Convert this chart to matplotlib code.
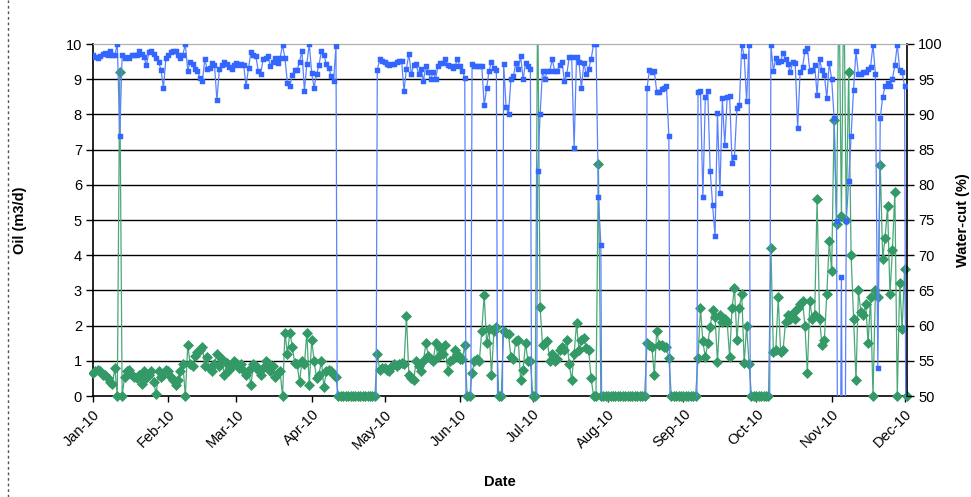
import numpy as np
import pandas as pd
import matplotlib
matplotlib.use('Agg')
import matplotlib.pyplot as plt
import matplotlib.dates as mdates
from matplotlib.lines import Line2D
from matplotlib.transforms import Bbox, TransformedBbox

plt.rcParams['font.family'] = ['Liberation Sans', 'DejaVu Sans']

# daily oil rate (m3/d), one list per month, starting 1 Jan 2010
oil_jan = [0.65, 0.7, 0.75, 0.7, 0.6, 0.6, 0.5, 0.4, 0.35, 0.8, 0.0, 9.2, 0.0, 0.55, 0.7, 0.75,
           0.6, 0.55, 0.5, 0.6, 0.35, 0.7, 0.5, 0.6, 0.7, 0.4, 0.05, 0.7, 0.55, 0.6, 0.75]
oil_feb = [0.7, 0.55, 0.45, 0.3, 0.45, 0.7, 0.9, 0.0, 1.45, 0.9, 0.85, 1.15, 1.25, 1.3, 1.4, 0.85,
           1.1, 0.8, 0.7, 0.9, 1.2, 0.85, 1.05, 0.6, 0.95, 0.75, 0.85, 1.0]
oil_mar = [0.95, 0.8, 0.9, 0.7, 0.6, 0.75, 0.3, 0.9, 0.85, 0.75, 0.6, 0.8, 1.0, 0.95, 0.7, 0.85,
           0.55, 0.65, 0.7, 0.0, 1.8, 1.2, 1.8, 1.4, 0.95, 0.9, 0.4, 1.0, 0.9, 1.8, 0.3]
oil_apr = [1.6, 1.0, 0.5, 0.6, 1.0, 0.25, 0.7, 0.75, 0.7, 0.6, 0.55,
           0.0, 0.0, 0.0, 0.0, 0.0, 0.0, 0.0, 0.0, 0.0, 0.0, 0.0, 0.0, 0.0, 0.0, 0.0, 0.0,
           1.2, 0.75, 0.8]
oil_may = [0.8, 0.75, 0.7, 0.85, 0.9, 0.85, 0.9, 0.95, 0.9, 2.27, 0.6, 0.5, 0.45, 1.0, 0.85, 0.7,
           1.0, 1.5, 1.15, 1.05, 1.0, 1.5, 1.1, 1.35, 1.2, 1.45, 0.7, 1.0, 1.05, 1.3, 1.2]
oil_jun = [1.05, 1.05, 1.45, 0.0, 0.0, 0.65, 1.0, 1.05, 1.0, 1.85, 2.87, 1.5, 1.9, 0.6, 1.85,
           1.95, 0.0, 0.0, 1.85, 1.8, 1.75, 1.1, 1.05, 1.55, 1.6, 0.45, 0.75, 1.5, 1.0, 1.0]
oil_jul = [0.0, 0.0, 11.5, 2.53, 1.45, 1.5, 1.55, 1.0, 1.2, 1.0, 1.05, 1.3, 1.4, 1.3, 1.6, 0.9,
           0.45, 1.2, 2.06, 1.3, 1.6, 1.65, 1.35, 1.3, 0.5, 0.0, 0.0, 6.6, 0.0, 0.0, 0.0]
oil_aug = [0.0, 0.0, 0.0, 0.0, 0.0, 0.0, 0.0, 0.0, 0.0, 0.0, 0.0, 0.0, 0.0, 0.0, 0.0, 0.0,
           1.5, 1.45, 1.4, 0.6, 1.85, 1.45, 1.45, 1.4, 1.4, 1.08,
           0.0, 0.0, 0.0, 0.0, 0.0]
oil_sep = [0.0, 0.0, 0.0, 0.0, 0.0, 0.0,
           1.08, 2.5, 1.55, 1.1, 1.5, 1.97, 2.44, 2.25, 0.97, 2.3, 2.1, 2.2, 2.1, 1.1, 2.5,
           3.07, 1.6, 2.5, 2.9, 0.93, 2.0, 0.9,
           0.0, 0.0]
oil_oct = [0.0, 0.0, 0.0, 0.0, 0.0, 0.0,
           4.2, 1.25, 1.3, 2.8, 1.25, 1.3, 2.1, 2.3, 2.2, 2.35, 2.2, 2.5, 2.6, 2.7, 2.0, 0.65,
           2.7, 2.2, 2.3, 5.6, 2.2, 1.45, 1.6, 2.9, 4.4]
oil_nov = [3.55, 7.84, 4.9, 12.0, 5.1, 12.0, 5.0, 9.2, 4.0, 2.2, 0.45, 3.0, 2.4, 2.3, 2.6, 1.5,
           2.8, 0.0, 3.0, 2.8, 6.56, 3.9, 4.5, 5.4, 2.9, 4.15, 5.8, 0.0, 3.2, 1.9]
oil_dec = [3.6, 0.0]

# daily water-cut (%), same days; 0 = well shut in (falls off the 50-100 scale)
wc_jan = [98.4, 98.2, 98.0, 98.3, 98.6, 98.7, 98.5, 99.0, 98.4, 98.4, 100.0, 87.0, 98.4, 98.0,
          98.2, 98.0, 98.4, 98.5, 98.5, 99.0, 98.6, 98.2, 97.0, 98.8, 99.0, 98.6, 98.0, 97.5,
          96.3, 93.7, 98.0]
wc_feb = [98.5, 98.8, 99.0, 99.0, 98.4, 98.0, 98.5, 100.0, 96.2, 97.5, 97.2, 96.5, 96.2, 95.2,
          94.7, 97.8, 96.4, 96.6, 97.3, 97.0, 92.0, 96.4, 97.0, 97.4, 97.2, 96.8, 96.5, 97.0]
wc_mar = [97.3, 97.0, 97.2, 97.0, 94.0, 96.6, 98.8, 98.5, 98.3, 96.2, 95.8, 97.8, 98.0, 98.3,
          96.9, 97.5, 98.0, 97.3, 98.0, 99.9, 98.0, 94.5, 94.0, 95.6, 96.3, 96.3, 97.5, 99.0,
          93.3, 97.2, 100.0]
wc_apr = [95.9, 93.8, 95.7, 97.0, 99.0, 98.5, 97.2, 96.6, 95.5, 94.7, 99.7,
          0.0, 0.0, 0.0, 0.0, 0.0, 0.0, 0.0, 0.0, 0.0, 0.0, 0.0, 0.0, 0.0, 0.0, 0.0, 0.0,
          96.3, 97.9, 97.6]
wc_may = [97.4, 97.2, 97.0, 97.2, 97.2, 97.5, 97.6, 97.6, 93.3, 96.5, 98.6, 95.7, 97.0, 97.2,
          95.7, 96.5, 94.8, 96.9, 96.0, 95.0, 96.0, 95.0, 96.9, 97.3, 97.3, 97.8, 97.0, 96.9,
          96.6, 96.9, 97.8]
wc_jun = [96.9, 96.2, 95.2, 0.0, 0.0, 97.2, 96.9, 96.9, 96.9, 96.9, 91.3, 93.7, 96.2, 97.5,
          96.6, 96.3, 0.0, 0.0, 97.2, 91.1, 90.0, 95.0, 95.4, 97.3, 96.4, 98.3, 95.0, 97.3,
          96.9, 96.5]
wc_jul = [0.0, 0.0, 82.0, 90.0, 96.2, 95.0, 96.2, 96.2, 97.8, 96.2, 96.2, 97.0, 97.5, 94.7,
          95.7, 98.2, 98.2, 85.2, 98.2, 97.5, 93.7, 97.3, 95.7, 96.5, 97.8, 100.0, 100.0, 78.3,
          71.5, 0.0, 0.0]
wc_aug = [0.0, 0.0, 0.0, 0.0, 0.0, 0.0, 0.0, 0.0, 0.0, 0.0, 0.0, 0.0, 0.0, 0.0, 0.0, 0.0,
          93.7, 96.3, 96.0, 96.2, 93.2, 93.2, 93.6, 93.7, 94.0, 86.9,
          0.0, 0.0, 0.0, 0.0, 0.0]
wc_sep = [0.0, 0.0, 0.0, 0.0, 0.0, 0.0,
          93.2, 93.3, 78.3, 92.5, 93.3, 82.0, 77.1, 72.7, 90.2, 78.8, 92.3, 85.6, 92.5, 92.6,
          83.1, 84.0, 90.9, 91.3, 99.9, 98.3, 91.9, 99.9,
          0.0, 0.0]
wc_oct = [0.0, 0.0, 0.0, 0.0, 0.0, 0.0,
          99.9, 96.2, 98.0, 97.5, 97.6, 98.7, 97.8, 97.1, 96.0, 97.5, 97.3, 88.0, 96.0, 96.7,
          99.0, 99.4, 96.2, 96.3, 97.0, 92.8, 97.8, 96.3, 95.6, 92.3, 97.3]
wc_nov = [95.0, 89.5, 74.9, 0.0, 66.9, 0.0, 74.9, 80.5, 86.9, 93.5, 99.0, 95.7, 95.7, 96.0,
          96.0, 96.5, 96.7, 99.9, 95.7, 54.0, 89.5, 92.5, 94.0, 94.5, 94.0, 95.0, 97.0, 99.9,
          96.3, 96.0]
wc_dec = [94.0, 0.0]

oil = (oil_jan + oil_feb + oil_mar + oil_apr + oil_may + oil_jun + oil_jul + oil_aug
       + oil_sep + oil_oct + oil_nov + oil_dec)
wc = (wc_jan + wc_feb + wc_mar + wc_apr + wc_may + wc_jun + wc_jul + wc_aug
      + wc_sep + wc_oct + wc_nov + wc_dec)
dates = pd.date_range('2010-01-01', periods=len(oil), freq='D')

fig = plt.figure(figsize=(9.71, 4.97), dpi=100)
ax1 = fig.add_axes([93 / 971, 1 - 396 / 497, (907 - 93) / 971, (396 - 44) / 497])
ax2 = ax1.twinx()

for v in range(1, 10):
    ax1.axhline(v, color='black', lw=1.0, zorder=0)

# oil on the left axis, green diamonds
oil_line, = ax1.plot(dates, oil, color='#4aa878', lw=0.9, marker='D', ms=5,
                     mfc='#339966', mec='#339966', mew=0.5, zorder=3)
oil_line.set_clip_box(TransformedBbox(Bbox([[-0.005, -0.013], [1.005, 1]]), ax1.transAxes))

# water-cut on the right axis, blue squares
ax2.plot(dates, wc, color='#5a82ff', lw=0.9, marker='s', ms=3.6,
         mfc='#3366ff', mec='#3366ff', mew=0.3, zorder=3)

ax1.set_ylim(0, 10)
ax1.set_yticks(range(0, 11))
ax2.set_ylim(50, 100)
ax2.set_yticks(range(50, 101, 5))
ax1.set_xlim(dates[0], dates[-1])
ax1.xaxis.set_major_locator(mdates.MonthLocator())
ax1.xaxis.set_major_formatter(mdates.DateFormatter('%b-%y'))

for lab in ax1.get_xticklabels():
    lab.set_rotation(45)
    lab.set_ha('right')
    lab.set_va('top')
    lab.set_rotation_mode('anchor')

ax1.tick_params(axis='y', direction='out', length=5, width=1, labelsize=10.5, pad=3)
ax1.tick_params(axis='x', direction='out', length=4, width=1, labelsize=10.5, pad=4)
ax2.tick_params(axis='y', direction='out', length=5, width=1, labelsize=10.5, pad=3)

for a in (ax1, ax2):
    a.spines['top'].set_color('#b0b0b0')
    a.spines['bottom'].set_color('black')
ax1.spines['right'].set_visible(False)
ax2.spines['left'].set_visible(False)
ax2.spines['bottom'].set_visible(False)
ax1.spines['left'].set_linewidth(1.2)
ax2.spines['right'].set_linewidth(1.2)
ax1.spines['bottom'].set_linewidth(1.2)

fig.text(20 / 971, 1 - 220 / 497, 'Oil (m3/d)', rotation=90, ha='center', va='center',
         fontsize=10.5, fontweight='bold')
fig.text(963 / 971, 1 - 220 / 497, 'Water-cut (%)', rotation=90, ha='center', va='center',
         fontsize=10.5, fontweight='bold')
fig.text(500 / 971, 1 - 482 / 497, 'Date', ha='center', va='center',
         fontsize=10.5, fontweight='bold')

# dashed border on the left of the chart area
fig.add_artist(Line2D([8 / 971, 8 / 971], [0, 1], transform=fig.transFigure,
                      color='#555555', lw=1, ls=(0, (2, 2))))

fig.savefig('out.png', dpi=100)
